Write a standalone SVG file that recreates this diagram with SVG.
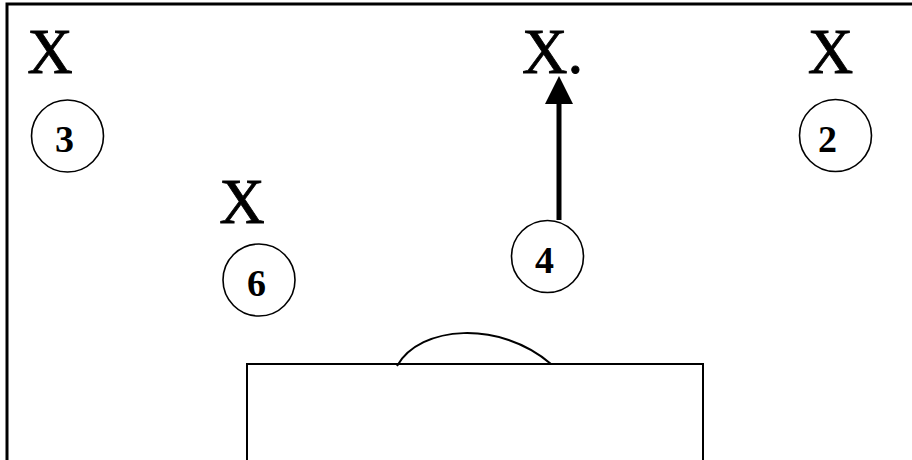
<svg xmlns="http://www.w3.org/2000/svg" width="912" height="460" viewBox="0 0 912 460">
<style>
.x{font-family:"Liberation Serif","Times New Roman",serif;font-size:63px;fill:#000;stroke:#000;stroke-width:0.8}
.n{font-family:"Liberation Serif","Times New Roman",serif;font-size:38px;font-weight:bold;fill:#000;text-anchor:middle}
.c{fill:none;stroke:#000;stroke-width:1.6}
.ln{fill:none;stroke:#000}
</style>
<rect width="912" height="460" fill="#fff"/>
<g id="border">
<path class="ln" d="M7,460 V4 H912" stroke-width="3"/>
</g>
<g id="court">
<path class="ln" d="M247,460 V364 H703 V460" stroke-width="2"/>
<path class="ln" d="M397,366 C420,325 500,320 551,364" stroke-width="2"/>
</g>
<g id="x1"><text class="x" x="50" y="73" text-anchor="middle">X</text></g>
<g id="x2"><text class="x" x="242" y="223" text-anchor="middle">X</text></g>
<g id="x3"><text class="x" x="522" y="73">X.</text></g>
<g id="x4"><text class="x" x="830.5" y="73" text-anchor="middle">X</text></g>
<g id="p3"><circle class="c" cx="67.5" cy="136" r="36"/><text class="n" x="64.5" y="152">3</text></g>
<g id="p6"><circle class="c" cx="259" cy="280" r="36"/><text class="n" x="256.5" y="296">6</text></g>
<g id="p4"><circle class="c" cx="547.5" cy="256.5" r="36"/><text class="n" x="544.5" y="273">4</text></g>
<g id="p2"><circle class="c" cx="835.5" cy="135.5" r="36"/><text class="n" x="827.5" y="152">2</text></g>
<g id="connectors">
<line x1="559" y1="220" x2="559" y2="103" stroke="#000" stroke-width="5"/>
<polygon points="559,76 545,104 573,104" fill="#000"/>
</g>
</svg>
